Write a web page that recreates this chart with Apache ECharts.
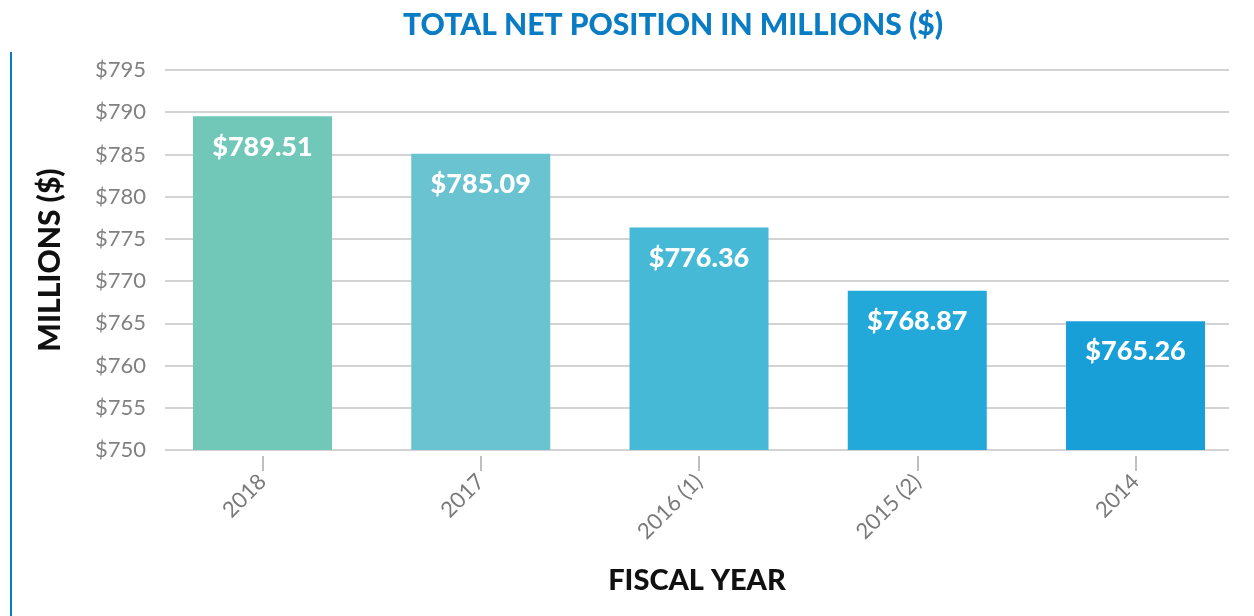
<!DOCTYPE html>
<html>
<head>
<meta charset="utf-8">
<title>Total net position</title>
<script src="https://cdn.jsdelivr.net/npm/echarts@6/dist/echarts.min.js"></script>
<style>
  html, body { margin: 0; padding: 0; background: #fff; }
  #main { width: 1254px; height: 616px; }
</style>
</head>
<body>
<div id="main"></div>
<script>
// fiscal years and net position (millions $)
var years = ['2018', '2017', '2016 (1)', '2015 (2)', '2014']
var netPosition = [789.51, 785.09, 776.36, 768.87, 765.26]
var barColors = ['#71c8b9', '#69c3d0', '#45b9d6', '#23a9d9', '#189fd8']
var yTicks = [750, 755, 760, 765, 770, 775, 780, 785, 790, 795]

var positions = years.map(function (y, i) { return i })

var chart = echarts.init(document.getElementById('main'))
chart.setOption({
  textStyle: { fontFamily: 'Lato' },
  title: {
    text: 'TOTAL NET POSITION IN MILLIONS ($)',
    left: 668,
    top: 5,
    textAlign: 'center',
    textStyle: { color: '#0a7cc4', fontSize: 30, fontWeight: 900, fontFamily: 'Lato' }
  },
  graphic: [{
    type: 'line',
    shape: { x1: 11, y1: 52, x2: 11, y2: 616 },
    style: { stroke: '#0a7cc4', lineWidth: 2 }
  }],
  grid: { left: 165, right: 25, top: 70, bottom: 166 },
  xAxis: {
    type: 'value',
    min: -0.4467,
    max: 4.4283,
    offset: 6,
    name: 'FISCAL YEAR',
    nameLocation: 'middle',
    nameGap: 110,
    nameTextStyle: { color: '#111', fontSize: 29, fontWeight: 900 },
    axisLine: { show: false },
    splitLine: { show: false },
    axisTick: {
      show: true,
      customValues: positions,
      length: 15,
      lineStyle: { color: '#aaaaaa', width: 1.5 }
    },
    axisLabel: {
      customValues: positions,
      rotate: 45,
      margin: 22,
      color: '#7a7a7a',
      fontSize: 22,
      formatter: function (v) { return years[Math.round(v)] }
    }
  },
  yAxis: {
    type: 'value',
    min: yTicks[0],
    max: yTicks[yTicks.length - 1],
    interval: 5,
    name: 'MILLIONS ($)',
    nameLocation: 'middle',
    nameRotate: 90,
    nameGap: 100,
    nameTextStyle: { color: '#111', fontSize: 30, fontWeight: 900 },
    axisLine: { show: false },
    axisTick: { show: false },
    axisLabel: {
      margin: 19,
      color: '#808080',
      fontSize: 22,
      formatter: function (v) { return '$' + v }
    },
    splitLine: { lineStyle: { color: '#c4c4c4', width: 1.5 } }
  },
  series: [{
    type: 'bar',
    barWidth: 139,
    data: netPosition.map(function (v, i) {
      return { value: [i, v], itemStyle: { color: barColors[i] } }
    }),
    label: {
      show: true,
      position: 'insideTop',
      distance: 17,
      color: '#fff',
      fontSize: 27,
      fontWeight: 900,
      formatter: function (p) { return '$' + p.value[1].toFixed(2) }
    }
  }]
})
</script>
</body>
</html>
